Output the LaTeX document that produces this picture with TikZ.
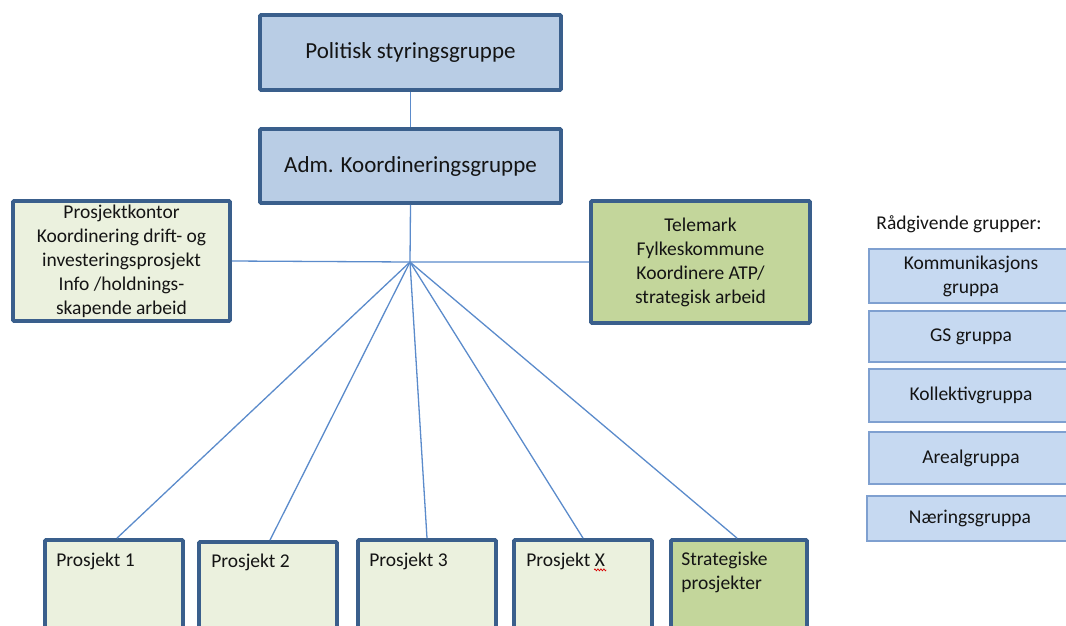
\documentclass[tikz,border=0pt]{standalone}
\usepackage{fontspec}
\setmainfont{Carlito}
\usetikzlibrary{decorations.pathmorphing}
\definecolor{bordblue}{HTML}{3A5F8C}
\definecolor{fillblue}{HTML}{B9CDE5}
\definecolor{fillpale}{HTML}{EBF1DE}
\definecolor{fillgreen}{HTML}{C3D69B}
\definecolor{linecol}{HTML}{5B8BCB}
\definecolor{advfill}{HTML}{C6D9F1}
\definecolor{advbord}{HTML}{7FA0D0}
\definecolor{txt}{HTML}{141414}
\begin{document}
\begin{tikzpicture}[x=1pt,y=-1pt,
  every node/.style={text=txt},
  bigfont/.style={font=\fontsize{23}{28}\selectfont},
  smallfont/.style={font=\fontsize{19.5}{24}\selectfont},
  mainbox/.style={draw=bordblue, line width=3.8pt, rounded corners=1pt, inner sep=0pt, align=center},
  topbox/.style={mainbox, fill=fillblue, bigfont, minimum width=301pt, minimum height=75pt},
  sidebox/.style={mainbox, smallfont},
  projbox/.style={mainbox, fill=fillpale, minimum width=138pt, minimum height=140pt},
  advbox/.style={draw=advbord, line width=1.6pt, fill=advfill, smallfont, inner sep=0pt, minimum width=204pt, align=center},
  plabel/.style={smallfont, inner sep=0pt, align=left, anchor=north west},
  conn/.style={draw=linecol, line width=1.3pt}
]
\useasboundingbox (0,0) rectangle (1066,625);
\clip (0,0) rectangle (1066,625);

% top hierarchy
\node[topbox] (pol) at (410.5,52.5) {Politisk styringsgruppe};
\node[topbox, minimum height=74pt] (adm) at (410.5,166) {Adm. Koordineringsgruppe};
\coordinate (hub) at (410,262);

% side boxes
\node[sidebox, fill=fillpale, minimum width=217pt, minimum height=120pt] (kontor) at (121.5,261)
  {Prosjektkontor\\Koordinering drift- og\\investeringsprosjekt\\Info /holdnings-\\skapende arbeid};
\node[sidebox, fill=fillgreen, minimum width=219pt, minimum height=122pt] (tfk) at (700.5,262)
  {Telemark\\Fylkeskommune\\Koordinere ATP/\\strategisk arbeid};

% project boxes
\node[projbox] (p1) at (114,610) {};
\node[projbox] (p2) at (268,612) {};
\node[projbox] (p3) at (427,610) {};
\node[projbox] (px) at (583,610) {};
\node[projbox, fill=fillgreen, minimum width=136pt] (ps) at (739,610) {};

\node[plabel] (p1t) at ([xshift=13pt,yshift=-15pt]p1.north west) {Prosjekt 1};
\node[plabel] (p2t) at ([xshift=14pt,yshift=-14pt]p2.north west) {Prosjekt 2};
\node[plabel] (p3t) at ([xshift=13pt,yshift=-15pt]p3.north west) {Prosjekt 3};
\node[plabel] (pxt) at ([xshift=14pt,yshift=-15pt]px.north west) {Prosjekt X};
\node[plabel] (pst) at ([xshift=12pt,yshift=-14pt]ps.north west) {Strategiske\\prosjekter};
\draw[red!85!black, line width=0.7pt, decorate, decoration={zigzag, segment length=3pt, amplitude=1pt}]
  ([xshift=-11pt,yshift=-3pt]pxt.base east) -- ([xshift=1pt,yshift=-3pt]pxt.base east);

% connectors
\draw[conn] (pol.south) -- (adm.north);
\draw[conn] (adm.south) -- (hub);
\draw[conn] (kontor.east) -- (hub) -- (tfk.west);
\draw[conn] (hub) -- ([xshift=3pt]p1.north);
\draw[conn] (hub) -- ([xshift=2pt]p2.north);
\draw[conn] (hub) -- (p3.north);
\draw[conn] (hub) -- (px.north);
\draw[conn] (hub) -- ([xshift=-2pt]ps.north);

% advisory groups
\node[smallfont, inner sep=0pt] (radg) at (959,224) {Rådgivende grupper:};
\node[advbox, minimum height=54pt] (g1) at (971,276) {Kommunikasjons\\gruppa};
\node[advbox, minimum height=51pt] (g2) at (971,336.5) {GS gruppa};
\node[advbox, minimum height=53pt] (g3) at (971,395.5) {Kollektivgruppa};
\node[advbox, minimum height=52pt] (g4) at (971,458) {Arealgruppa};
\node[advbox, minimum height=45pt, minimum width=206pt] (g5) at (970,518.5) {Næringsgruppa};
\end{tikzpicture}
\end{document}
